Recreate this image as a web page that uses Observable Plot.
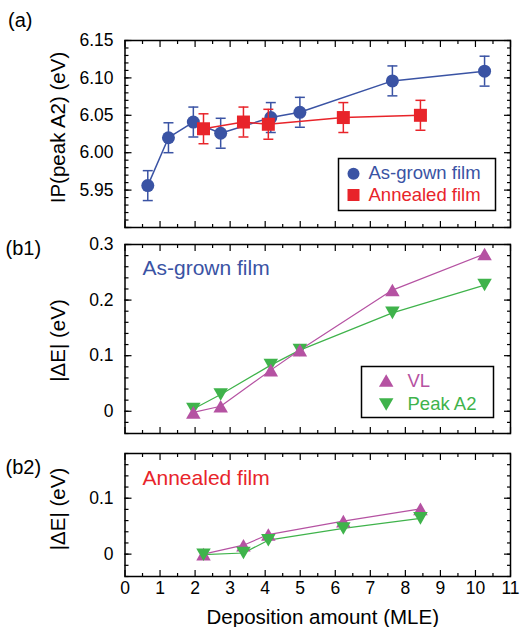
<!DOCTYPE html>
<html>
<head>
<meta charset="utf-8">
<script src="https://cdn.jsdelivr.net/npm/d3@7"></script>
<script src="https://cdn.jsdelivr.net/npm/@observablehq/plot@0.6"></script>
<style>
  html, body { margin: 0; padding: 0; background: #fff; }
  #chart { width: 520px; height: 627px; }
  #chart svg { display: block; }
</style>
</head>
<body>
<div id="chart"></div>
<script>
// ---------- data ----------
const grownX   = [0.65, 1.24, 1.95, 2.73, 4.16, 4.99, 7.63, 10.26];
const grownIP  = [5.956, 6.020, 6.041, 6.026, 6.047, 6.054, 6.096, 6.109];
const grownErr = [0.020, 0.020, 0.020, 0.020, 0.020, 0.020, 0.020, 0.020];

const annealX   = [2.24, 3.38, 4.09, 6.23, 8.43];
const annealIP  = [6.032, 6.041, 6.038, 6.047, 6.050];
const annealErr = [0.020, 0.020, 0.020, 0.020, 0.020];

const grownDX  = [1.95, 2.73, 4.16, 4.99, 7.63, 10.26];
const grownVL  = [-0.002, 0.009, 0.074, 0.110, 0.218, 0.283];
const grownA2  = [0.004, 0.030, 0.083, 0.110, 0.177, 0.227];

const annealVL = [0.000, 0.016, 0.035, 0.059, 0.081];
const annealA2 = [-0.001, 0.002, 0.025, 0.046, 0.064];

const xTicks      = d3.range(0, 12);
const xMinorTicks = d3.range(0.5, 11, 1);
const ipTickLabels = [5.95, 6.00, 6.05, 6.10, 6.15];
const dETickLabelsB1 = [0, 0.1, 0.2, 0.3];
const dETickLabelsB2 = [0, 0.1];

const panelLabels = ["(a)", "(b1)", "(b2)"];
const yTitles = ["IP(peak A2) (eV)", "|ΔE| (eV)", "|ΔE| (eV)"];
const xTitle = "Deposition amount (MLE)";
const seriesA = ["As-grown film", "Annealed film"];
const seriesB = ["VL", "Peak A2"];

// ---------- style ----------
const FONT = "'Liberation Sans', Arial, Helvetica, sans-serif";
const BLUE = "#3a53a4", RED = "#e8242a", MAGENTA = "#b552a2", GREEN = "#3fb34b";
const W = 520, ML = 124.5, MR = 10;

// custom symbols
const triUp = { draw(ctx) { const s = 14.5, h = s * Math.sqrt(3) / 2; ctx.moveTo(0, -h / 2); ctx.lineTo(s / 2, h / 2); ctx.lineTo(-s / 2, h / 2); ctx.closePath(); } };
const triDown = { draw(ctx) { const s = 14.5, h = s * Math.sqrt(3) / 2; ctx.moveTo(0, h / 2); ctx.lineTo(s / 2, -h / 2); ctx.lineTo(-s / 2, -h / 2); ctx.closePath(); } };
const cap = { draw(ctx) { ctx.moveTo(-5, 0); ctx.lineTo(5, 0); } };
const square = { draw(ctx) { const a = 6.5; ctx.moveTo(-a, -a); ctx.lineTo(a, -a); ctx.lineTo(a, a); ctx.lineTo(-a, a); ctx.closePath(); } };
const squareLeg = { draw(ctx) { const a = 6; ctx.moveTo(-a, -a); ctx.lineTo(a, -a); ctx.lineTo(a, a); ctx.lineTo(-a, a); ctx.closePath(); } };

function boxAxes(yMajor, yMinor) {
  return [
    Plot.axisX(xTicks, {anchor: "bottom", tickSize: -6, fill: "none", label: null, strokeWidth: 1.2}),
    Plot.axisX(xMinorTicks, {anchor: "bottom", tickSize: -3, fill: "none", label: null, strokeWidth: 1.2}),
    Plot.axisX(xTicks, {anchor: "top", tickSize: -6, fill: "none", label: null, strokeWidth: 1.2}),
    Plot.axisX(xMinorTicks, {anchor: "top", tickSize: -3, fill: "none", label: null, strokeWidth: 1.2}),
    Plot.axisY(yMajor, {anchor: "left", tickSize: -7, fill: "none", label: null, strokeWidth: 1.2}),
    Plot.axisY(yMinor, {anchor: "left", tickSize: -4, fill: "none", label: null, strokeWidth: 1.2}),
    Plot.axisY(yMajor, {anchor: "right", tickSize: -7, fill: "none", label: null, strokeWidth: 1.2}),
    Plot.axisY(yMinor, {anchor: "right", tickSize: -4, fill: "none", label: null, strokeWidth: 1.2}),
    Plot.frame({stroke: "black", strokeWidth: 1.5})
  ];
}

function label(txt, opts) {
  return Plot.text([txt], {text: d => d, textAnchor: "start", lineAnchor: "bottom", fontFamily: FONT, ...opts});
}
function yTitle(txt, dy) {
  return Plot.text([txt], {text: d => d, frameAnchor: "left", rotate: -90, dx: -60.5, dy, lineAnchor: "bottom", textAnchor: "middle", fontSize: 20.5, fontFamily: FONT});
}

const idxG = d3.range(grownX.length);
const idxA = d3.range(annealX.length);

// ---------- panel (a) ----------
const plotA = Plot.plot({
  width: W, height: 236,
  marginLeft: ML, marginRight: MR, marginTop: 40, marginBottom: 9,
  style: {fontFamily: FONT, fontSize: "17px", background: "white", overflow: "visible"},
  x: {domain: [0, 11]},
  y: {domain: [5.90, 6.15]},
  marks: [
    ...boxAxes(d3.range(5.90, 6.1501, 0.05).map(v => +v.toFixed(2)), d3.range(5.90, 6.1501, 0.01).map(v => +v.toFixed(2))),
    Plot.axisY(ipTickLabels, {anchor: "left", tickSize: 0, tickPadding: 11.5, tickFormat: d3.format(".2f"), label: null, fontSize: 17.5}),
    // as-grown
    Plot.line(idxG, {x: i => grownX[i], y: i => grownIP[i], stroke: BLUE, strokeWidth: 1.5}),
    Plot.ruleX(idxG, {x: i => grownX[i], y1: i => grownIP[i] - grownErr[i], y2: i => grownIP[i] + grownErr[i], stroke: BLUE, strokeWidth: 1.5}),
    Plot.dot(idxG, {x: i => grownX[i], y: i => grownIP[i] - grownErr[i], symbol: cap, stroke: BLUE, fill: "none", strokeWidth: 1.5}),
    Plot.dot(idxG, {x: i => grownX[i], y: i => grownIP[i] + grownErr[i], symbol: cap, stroke: BLUE, fill: "none", strokeWidth: 1.5}),
    Plot.dot(idxG, {x: i => grownX[i], y: i => grownIP[i], r: 6.5, fill: BLUE, stroke: "none"}),
    // annealed
    Plot.line(idxA, {x: i => annealX[i], y: i => annealIP[i], stroke: RED, strokeWidth: 1.5}),
    Plot.ruleX(idxA, {x: i => annealX[i], y1: i => annealIP[i] - annealErr[i], y2: i => annealIP[i] + annealErr[i], stroke: RED, strokeWidth: 1.5}),
    Plot.dot(idxA, {x: i => annealX[i], y: i => annealIP[i] - annealErr[i], symbol: cap, stroke: RED, fill: "none", strokeWidth: 1.5}),
    Plot.dot(idxA, {x: i => annealX[i], y: i => annealIP[i] + annealErr[i], symbol: cap, stroke: RED, fill: "none", strokeWidth: 1.5}),
    Plot.dot(idxA, {x: i => annealX[i], y: i => annealIP[i], symbol: square, fill: RED, stroke: "none"}),
    // legend
    Plot.frame({stroke: "black", strokeWidth: 1.5, insetLeft: 213.5, insetTop: 118, insetRight: 15, insetBottom: 17}),
    Plot.dot([0], {frameAnchor: "top-left", dx: 228.5, dy: 133.3, r: 6, fill: BLUE, stroke: "none"}),
    label(seriesA[0], {frameAnchor: "top-left", dx: 243.5, dy: 138.5, fill: BLUE, fontSize: 18.5}),
    Plot.dot([0], {frameAnchor: "top-left", dx: 228.5, dy: 154.5, symbol: squareLeg, fill: RED, stroke: "none"}),
    label(seriesA[1], {frameAnchor: "top-left", dx: 243.5, dy: 160.5, fill: RED, fontSize: 18.5}),
    // titles
    yTitle(yTitles[0], -6.5),
    label(panelLabels[0], {frameAnchor: "top-left", dx: -117, dy: -14, fontSize: 20})
  ]
});

// ---------- panel (b1) ----------
const plotB1 = Plot.plot({
  width: W, height: 207,
  marginLeft: ML, marginRight: MR, marginTop: 8, marginBottom: 10,
  style: {fontFamily: FONT, fontSize: "17px", background: "white", overflow: "visible"},
  x: {domain: [0, 11]},
  y: {domain: [-0.04, 0.3]},
  marks: [
    ...boxAxes([0, 0.1, 0.2, 0.3], d3.range(-0.04, 0.3001, 0.02).map(v => +v.toFixed(2))),
    Plot.axisY(dETickLabelsB1, {anchor: "left", tickSize: 0, tickPadding: 11.5, tickFormat: d => d === 0 ? "0" : d3.format(".1f")(d), label: null, fontSize: 17.5}),
    Plot.line(grownDX.map((x, i) => [x, grownA2[i]]), {x: d => d[0], y: d => d[1], stroke: GREEN, strokeWidth: 1.2}),
    Plot.line(grownDX.map((x, i) => [x, grownVL[i]]), {x: d => d[0], y: d => d[1], stroke: MAGENTA, strokeWidth: 1.2}),
    Plot.dot(grownDX.map((x, i) => [x, grownA2[i]]), {x: d => d[0], y: d => d[1], symbol: triDown, fill: GREEN, stroke: "none"}),
    Plot.dot(grownDX.map((x, i) => [x, grownVL[i]]), {x: d => d[0], y: d => d[1], symbol: triUp, fill: MAGENTA, stroke: "none"}),
    // legend
    Plot.frame({stroke: "black", strokeWidth: 1.5, insetLeft: 236.5, insetTop: 122, insetRight: 17, insetBottom: 16}),
    Plot.dot([0], {frameAnchor: "top-left", dx: 261.2, dy: 136, symbol: triUp, fill: MAGENTA, stroke: "none"}),
    label(seriesB[0], {frameAnchor: "top-left", dx: 282.5, dy: 142.7, fill: MAGENTA, fontSize: 18.5}),
    Plot.dot([0], {frameAnchor: "top-left", dx: 261.2, dy: 160, symbol: triDown, fill: GREEN, stroke: "none"}),
    label(seriesB[1], {frameAnchor: "top-left", dx: 282.5, dy: 165.5, fill: GREEN, fontSize: 18.5}),
    label(seriesA[0], {frameAnchor: "top-left", dx: 17.5, dy: 30.3, fill: BLUE, fontSize: 21}),
    yTitle(yTitles[1], 1.5),
    label(panelLabels[1], {frameAnchor: "top-left", dx: -119.5, dy: 10, fontSize: 20})
  ]
});

// ---------- panel (b2) ----------
const plotB2 = Plot.plot({
  width: W, height: 184,
  marginLeft: ML, marginRight: MR, marginTop: 10, marginBottom: 51,
  style: {fontFamily: FONT, fontSize: "17px", background: "white", overflow: "visible"},
  x: {domain: [0, 11]},
  y: {domain: [-0.04, 0.18]},
  marks: [
    ...boxAxes([0, 0.1], d3.range(-0.04, 0.1801, 0.02).map(v => +v.toFixed(2))),
    Plot.axisY(dETickLabelsB2, {anchor: "left", tickSize: 0, tickPadding: 11.5, tickFormat: d => d === 0 ? "0" : d3.format(".1f")(d), label: null, fontSize: 17.5}),
    Plot.axisX(xTicks, {anchor: "bottom", tickSize: 0, tickPadding: 5, label: null, fontSize: 17.5}),
    Plot.line(annealX.map((x, i) => [x, annealVL[i]]), {x: d => d[0], y: d => d[1], stroke: MAGENTA, strokeWidth: 1.2}),
    Plot.line(annealX.map((x, i) => [x, annealA2[i]]), {x: d => d[0], y: d => d[1], stroke: GREEN, strokeWidth: 1.2}),
    Plot.dot(annealX.map((x, i) => [x, annealVL[i]]), {x: d => d[0], y: d => d[1], symbol: triUp, fill: MAGENTA, stroke: "none"}),
    Plot.dot(annealX.map((x, i) => [x, annealA2[i]]), {x: d => d[0], y: d => d[1], symbol: triDown, fill: GREEN, stroke: "none"}),
    label(seriesA[1], {frameAnchor: "top-left", dx: 17.5, dy: 31.3, fill: RED, fontSize: 21}),
    yTitle(yTitles[2], -6),
    label(panelLabels[2], {frameAnchor: "top-left", dx: -119.5, dy: 20, fontSize: 20}),
    Plot.text([xTitle], {text: d => d, frameAnchor: "bottom", dx: 5, dy: 47, lineAnchor: "bottom", textAnchor: "middle", fontSize: 20.5, fontFamily: FONT})
  ]
});

const chart = document.getElementById("chart");
chart.append(plotA, plotB1, plotB2);
</script>
</body>
</html>
